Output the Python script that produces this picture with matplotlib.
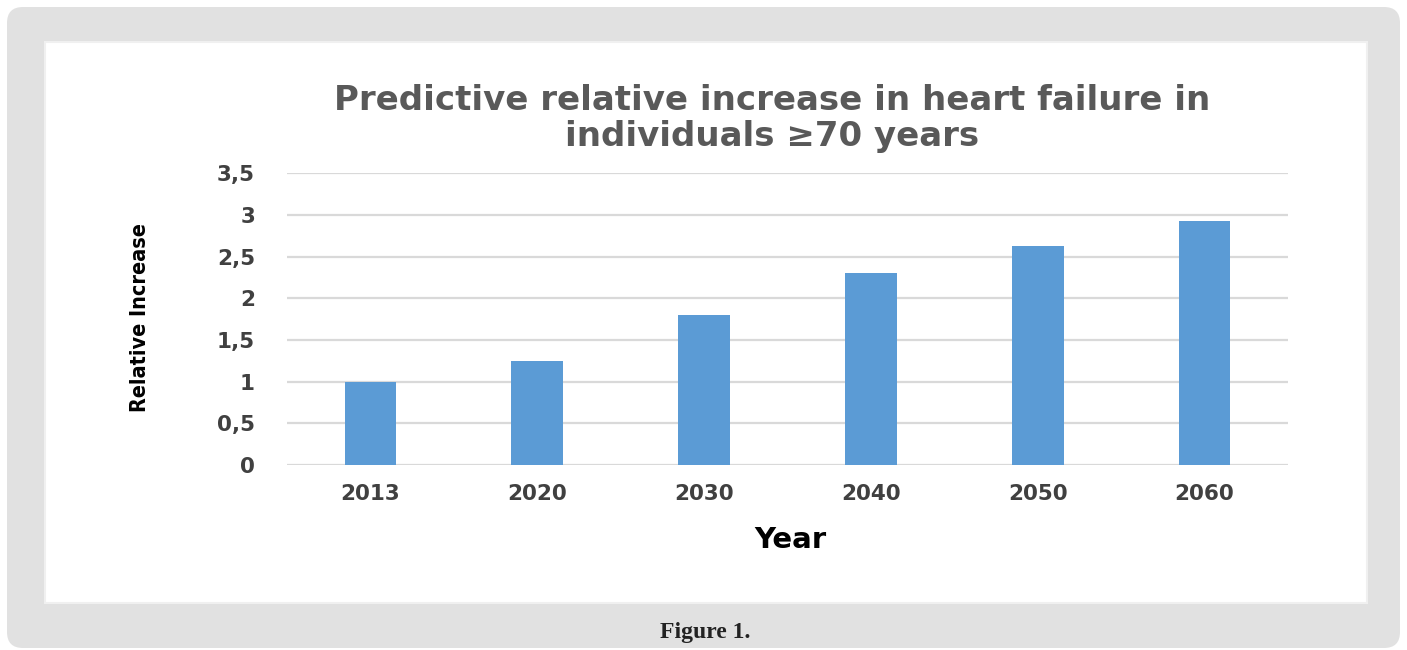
import matplotlib
matplotlib.use("Agg")
import matplotlib.pyplot as plt
from matplotlib.patches import FancyBboxPatch
import matplotlib.transforms as mtransforms

# Data
years = ["2013", "2020", "2030", "2040", "2050", "2060"]
relative_increase = [1.0, 1.25, 1.80, 2.30, 2.63, 2.93]
y_ticks = [0, 0.5, 1, 1.5, 2, 2.5, 3, 3.5]
y_tick_labels = ["0", "0,5", "1", "1,5", "2", "2,5", "3", "3,5"]

title_text = "Predictive relative increase in heart failure in\nindividuals \u226570 years"
ylabel_text = "Relative Increase"
xlabel_text = "Year"
caption_text = "Figure 1."

W, H = 1407, 650
fig = plt.figure(figsize=(W / 100, H / 100), dpi=100)
fig.patch.set_facecolor("white")

ident = mtransforms.IdentityTransform()
outer = FancyBboxPatch((7, 2), 1393, 641, boxstyle="round,pad=0,rounding_size=16",
                       transform=ident, facecolor="#e1e1e1", edgecolor="none", zorder=-10)
inner = FancyBboxPatch((45, 47), 1322, 561, boxstyle="square,pad=0",
                       transform=ident, facecolor="white", edgecolor="#f0f0f0",
                       linewidth=1.5, zorder=-9)
fig.patches.extend([outer, inner])

ax = fig.add_axes([287 / W, 185 / H, 1001 / W, 291.7 / H])
ax.set_facecolor("none")
x = list(range(len(years)))
ax.bar(x, relative_increase, width=0.31, color="#5b9bd5", zorder=3)
ax.set_xlim(-0.5, len(years) - 0.5)
ax.set_ylim(0, 3.5)
ax.set_yticks(y_ticks)
ax.set_yticklabels(y_tick_labels)
ax.set_xticks(x)
ax.set_xticklabels(years)
ax.yaxis.grid(True, color="#d9d9d9", linewidth=1.6, zorder=0)
ax.set_axisbelow(True)
for s in ax.spines.values():
    s.set_visible(False)
ax.tick_params(axis="both", length=0)
ax.tick_params(axis="y", pad=23)
ax.tick_params(axis="x", pad=14)
for lab in ax.get_xticklabels() + ax.get_yticklabels():
    lab.set_fontweight("bold")
    lab.set_fontsize(15.5)
    lab.set_color("#404040")
    lab.set_family("DejaVu Sans")

fig.text(0.549, 0.818, title_text, ha="center", va="center", fontsize=24.5,
         fontweight="bold", color="#595959", family="DejaVu Sans", linespacing=1.12)
fig.text(0.0995, 0.511, ylabel_text, rotation=90, ha="center", va="center",
         fontsize=15.5, fontweight="bold", color="black",
         family="DejaVu Sans", fontstretch="condensed")
fig.text(0.5615, 0.169, xlabel_text, ha="center", va="center", fontsize=21,
         fontweight="bold", color="black", family="DejaVu Sans")
fig.text(0.501, 0.027, caption_text, ha="center", va="center", fontsize=17,
         fontweight="bold", color="#222222", family="Liberation Serif")

fig.savefig("out.png", dpi=100)
